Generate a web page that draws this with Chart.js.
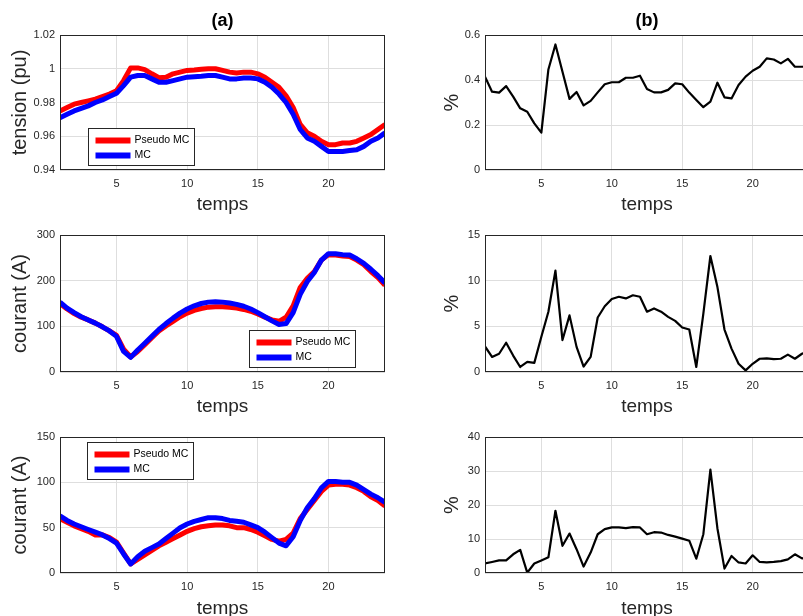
<!DOCTYPE html>
<html>

<head>
    <meta charset="utf-8">
    <title>Pseudo MC / MC</title>
    <script src="https://cdn.jsdelivr.net/npm/chart.js"></script>
    <style>
        body {
            margin: 0;
            width: 803px;
            height: 616px;
            overflow: hidden;
            background: #fff;
            position: relative;
        }

        canvas {
            position: absolute;
        }
    </style>
</head>

<body>
    <canvas id="tension" width="400" height="218" style="left:0;top:0"></canvas>
    <canvas id="ecart-tension" width="430" height="218" style="left:400px;top:0"></canvas>
    <canvas id="courant1" width="400" height="200" style="left:0;top:218px"></canvas>
    <canvas id="ecart-courant1" width="430" height="200" style="left:400px;top:218px"></canvas>
    <canvas id="courant2" width="400" height="207" style="left:0;top:418px"></canvas>
    <canvas id="ecart-courant2" width="430" height="207" style="left:400px;top:418px"></canvas>

    <script>
        // temps (heures), un point par demi-heure
        const temps = [1, 1.5, 2, 2.5, 3, 3.5, 4, 4.5, 5, 5.5, 6, 6.5, 7, 7.5, 8, 8.5, 9, 9.5, 10, 10.5,
            11, 11.5, 12, 12.5, 13, 13.5, 14, 14.5, 15, 15.5, 16, 16.5, 17, 17.5, 18, 18.5, 19, 19.5, 20, 20.5,
            21, 21.5, 22, 22.5, 23, 23.5, 24];

        // (a) tension (pu)
        const tensionPseudoMC = [0.975, 0.977, 0.979, 0.980, 0.981, 0.982, 0.9835, 0.985, 0.987, 0.993,
            1.0005, 1.0005, 0.9995, 0.997, 0.9947, 0.995, 0.997, 0.998, 0.999, 0.9993,
            0.9997, 1.000, 1.000, 0.999, 0.998, 0.9975, 0.998, 0.998, 0.997, 0.995,
            0.992, 0.989, 0.984, 0.977, 0.967, 0.962, 0.960, 0.957, 0.955, 0.955,
            0.956, 0.956, 0.957, 0.959, 0.961, 0.964, 0.967];
        const tensionMC = [0.971, 0.973, 0.975, 0.9765, 0.978, 0.980, 0.9815, 0.9835, 0.9855, 0.990,
            0.995, 0.996, 0.996, 0.994, 0.992, 0.992, 0.993, 0.994, 0.995, 0.9953,
            0.9956, 0.996, 0.996, 0.995, 0.994, 0.994, 0.9945, 0.9945, 0.994, 0.992,
            0.989, 0.985, 0.980, 0.973, 0.964, 0.959, 0.957, 0.954, 0.951, 0.951,
            0.951, 0.9515, 0.952, 0.954, 0.957, 0.959, 0.962];
        // (b) écart tension (%)
        const ecartTension = [0.415, 0.348, 0.344, 0.373, 0.326, 0.274, 0.259, 0.207, 0.166, 0.447,
            0.558, 0.437, 0.316, 0.347, 0.287, 0.307, 0.345, 0.381, 0.39, 0.39,
            0.41, 0.41, 0.419, 0.36, 0.345, 0.345, 0.356, 0.385, 0.381, 0.344,
            0.311, 0.279, 0.304, 0.388, 0.323, 0.318, 0.378, 0.415, 0.441, 0.459,
            0.496, 0.491, 0.474, 0.494, 0.459, 0.459, 0.46];

        // courant ligne 1 (A)
        const courant1PseudoMC = [150, 138, 128, 120, 114, 107, 99, 90, 80, 50,
            33, 45, 60, 75, 90, 101, 111, 121, 129, 135,
            139, 142, 143, 143, 142, 140, 137, 133, 127, 120,
            114, 111, 120, 145, 185, 205, 220, 245, 257, 256,
            254, 253, 245, 235, 220, 207, 190];
        const courant1MC = [153, 140, 130, 121, 114, 107, 99, 90, 78, 45,
            32, 48, 63, 78, 93, 106, 118, 129, 138, 145,
            150, 153, 154, 153, 151, 148, 144, 138, 130, 121,
            112, 104, 106, 130, 170, 198, 218, 245, 259, 259,
            257, 256, 248, 238, 225, 211, 195];
        const ecartCourant1 = [2.8, 1.65, 2.0, 3.2, 1.8, 0.55, 1.1, 1.0, 3.85, 6.6,
            11.1, 3.5, 6.2, 2.75, 0.6, 1.65, 5.97, 7.2, 8.0, 8.24,
            8.06, 8.4, 8.24, 6.6, 6.96, 6.6, 6.04, 5.6, 4.87, 4.65,
            0.55, 6.4, 12.7, 9.3, 4.65, 2.56, 0.9, 0.18, 0.9, 1.45,
            1.5, 1.4, 1.45, 1.9, 1.45, 2.0, 2.3];

        // courant ligne 2 (A)
        const courant2PseudoMC = [60, 56, 52, 49, 46, 42, 42, 39, 34, 22,
            10, 15, 20, 25, 30, 34, 38, 42, 46, 49,
            51, 52, 53, 53, 52, 50, 50, 48, 45, 41,
            37, 35, 37, 44, 60, 70, 80, 90, 97, 98,
            98, 97, 94, 90, 84, 80, 74];
        const courant2MC = [63, 58, 54, 51, 48, 45, 42, 38, 33, 21,
            10, 18, 24, 28, 32, 38, 44, 50, 54, 57,
            59, 61, 61, 60, 58, 57, 56, 53, 50, 45,
            39, 33, 30, 40, 58, 72, 82, 94, 101, 101,
            100, 100, 97, 92, 87, 83, 78];
        const ecartCourant2 = [2.8, 3.25, 3.7, 3.7, 5.5, 6.8, 0.1, 2.8, 3.7, 4.6,
            18.3, 8.0, 11.6, 7.0, 1.9, 6.0, 11.4, 12.9, 13.4, 13.4,
            13.2, 13.5, 13.4, 11.4, 12.0, 11.9, 11.2, 10.7, 10.1, 9.5,
            4.2, 11.4, 30.4, 13.1, 1.3, 5.0, 3.1, 2.8, 5.2, 3.25,
            3.1, 3.25, 3.5, 4.0, 5.5, 4.3, 4.5];

        // graduations
        const xTicks = [5, 10, 15, 20];
        const yTicksTension = [0.94, 0.96, 0.98, 1, 1.02];
        const yTicksEcartTension = [0, 0.2, 0.4, 0.6];
        const yTicksCourant1 = [0, 100, 200, 300];
        const yTicksEcartCourant1 = [0, 5, 10, 15];
        const yTicksCourant2 = [0, 50, 100, 150];
        const yTicksEcartCourant2 = [0, 10, 20, 30, 40];

        const FONT = '"Liberation Sans", Arial, Helvetica, sans-serif';
        const TEXT = '#262626';

        // cadre autour de la zone de tracé (style MATLAB)
        const boxPlugin = {
            id: 'box',
            afterDatasetsDraw(chart) {
                const { ctx, chartArea: a } = chart;
                ctx.save();
                ctx.strokeStyle = '#262626';
                ctx.lineWidth = 1;
                ctx.strokeRect(Math.round(a.left) + 0.5, Math.round(a.top) + 0.5,
                    Math.round(a.right - a.left) - 1, Math.round(a.bottom - a.top) - 1);
                ctx.restore();
            }
        };

        // petite légende encadrée placée dans la zone de tracé
        const boxLegend = {
            id: 'boxLegend',
            afterDraw(chart, args, opts) {
                if (!opts.display) return;
                const { ctx, chartArea: a } = chart;
                const x = Math.round(a.left + opts.dx) + 0.5;
                const y = Math.round(a.top + opts.dy) + 0.5;
                ctx.save();
                ctx.fillStyle = '#fff';
                ctx.fillRect(x, y, 106, 37);
                ctx.strokeStyle = '#262626';
                ctx.lineWidth = 1;
                ctx.strokeRect(x, y, 106, 37);
                ctx.font = '10.5px ' + FONT;
                ctx.textBaseline = 'middle';
                chart.data.datasets.forEach((ds, i) => {
                    const ly = y + 12 + i * 15;
                    ctx.strokeStyle = ds.borderColor;
                    ctx.lineWidth = 6;
                    ctx.beginPath();
                    ctx.moveTo(x + 7, ly);
                    ctx.lineTo(x + 42, ly);
                    ctx.stroke();
                    ctx.fillStyle = '#000';
                    ctx.fillText(ds.label, x + 46, ly);
                });
                ctx.restore();
            }
        };

        function points(values) {
            return values.map((v, i) => ({ x: temps[i], y: v }));
        }

        function fmt(v) {
            return String(parseFloat(v.toFixed(3)));
        }

        function panel(id, p) {
            // la dernière série est tracée par-dessus (comme dans MATLAB)
            const n = p.series.length;
            const datasets = p.series.map((s, i) => ({
                label: s.label,
                data: points(s.values),
                borderColor: s.color,
                borderWidth: s.width,
                borderJoinStyle: 'round',
                pointRadius: 0,
                tension: 0,
                fill: false,
                order: n - i
            }));

            new Chart(document.getElementById(id), {
                type: 'line',
                data: { datasets: datasets },
                options: {
                    responsive: false,
                    animation: false,
                    events: [],
                    layout: { padding: { top: p.padTop, right: p.padRight, left: 0, bottom: 0 } },
                    plugins: {
                        legend: { display: false },
                        tooltip: { enabled: false },
                        title: {
                            display: !!p.title,
                            text: p.title,
                            fullSize: false,
                            color: '#000',
                            font: { family: FONT, size: 18, weight: 'bold' },
                            padding: { top: 10, bottom: 3.4 }
                        },
                        boxLegend: p.legend ? { display: true, dx: p.legend[0], dy: p.legend[1] } : { display: false }
                    },
                    scales: {
                        x: {
                            type: 'linear',
                            min: 1,
                            max: 24,
                            afterBuildTicks: s => { s.ticks = xTicks.map(v => ({ value: v })); },
                            afterFit: s => { s.height = p.xHeight; },
                            grid: { color: '#dedede', drawTicks: false },
                            border: { display: false },
                            ticks: { color: TEXT, padding: 7, maxRotation: 0, font: { family: FONT, size: 11 } },
                            title: {
                                display: true,
                                text: 'temps',
                                color: TEXT,
                                font: { family: FONT, size: 19 },
                                padding: { top: 0, bottom: p.xTitlePad }
                            }
                        },
                        y: {
                            type: 'linear',
                            min: p.yTicks[0],
                            max: p.yTicks[p.yTicks.length - 1],
                            afterBuildTicks: s => { s.ticks = p.yTicks.map(v => ({ value: v })); },
                            afterFit: s => { s.width = p.yWidth; },
                            grid: { color: '#dedede', drawTicks: false },
                            border: { display: false },
                            ticks: { color: TEXT, padding: 5, font: { family: FONT, size: 11 }, callback: v => fmt(v) },
                            title: {
                                display: true,
                                text: p.yLabel,
                                color: TEXT,
                                font: { family: FONT, size: 20 },
                                padding: { top: p.yTitlePad, bottom: 0 }
                            }
                        }
                    }
                },
                plugins: [boxPlugin, boxLegend]
            });
        }

        const left = { yWidth: 60, padRight: 15, yTitlePad: 8 };
        const right = { yWidth: 85, padRight: 21, yTitlePad: 40 };
        const row1 = { padTop: 0, xHeight: 48, xTitlePad: 1.6 };
        const row2 = { padTop: 17, xHeight: 46, xTitlePad: 0 };
        const row3 = { padTop: 19, xHeight: 52, xTitlePad: 4.6 };

        function pair(a, b) {
            return [
                { label: 'Pseudo MC', values: a, color: '#ff0000', width: 5 },
                { label: 'MC', values: b, color: '#0000ff', width: 5 }
            ];
        }

        panel('tension', Object.assign({}, left, row1, {
            title: '(a)', yLabel: 'tension (pu)', yTicks: yTicksTension,
            series: pair(tensionPseudoMC, tensionMC), legend: [28, 93]
        }));
        panel('ecart-tension', Object.assign({}, right, row1, {
            title: '(b)', yLabel: '%', yTicks: yTicksEcartTension,
            series: [{ label: 'écart', values: ecartTension, color: '#000000', width: 2.2 }]
        }));
        panel('courant1', Object.assign({}, left, row2, {
            yLabel: 'courant (A)', yTicks: yTicksCourant1,
            series: pair(courant1PseudoMC, courant1MC), legend: [189, 95]
        }));
        panel('ecart-courant1', Object.assign({}, right, row2, {
            yLabel: '%', yTicks: yTicksEcartCourant1,
            series: [{ label: 'écart', values: ecartCourant1, color: '#000000', width: 2.2 }]
        }));
        panel('courant2', Object.assign({}, left, row3, {
            yLabel: 'courant (A)', yTicks: yTicksCourant2,
            series: pair(courant2PseudoMC, courant2MC), legend: [27, 5]
        }));
        panel('ecart-courant2', Object.assign({}, right, row3, {
            yLabel: '%', yTicks: yTicksEcartCourant2,
            series: [{ label: 'écart', values: ecartCourant2, color: '#000000', width: 2.2 }]
        }));
    </script>
</body>

</html>
